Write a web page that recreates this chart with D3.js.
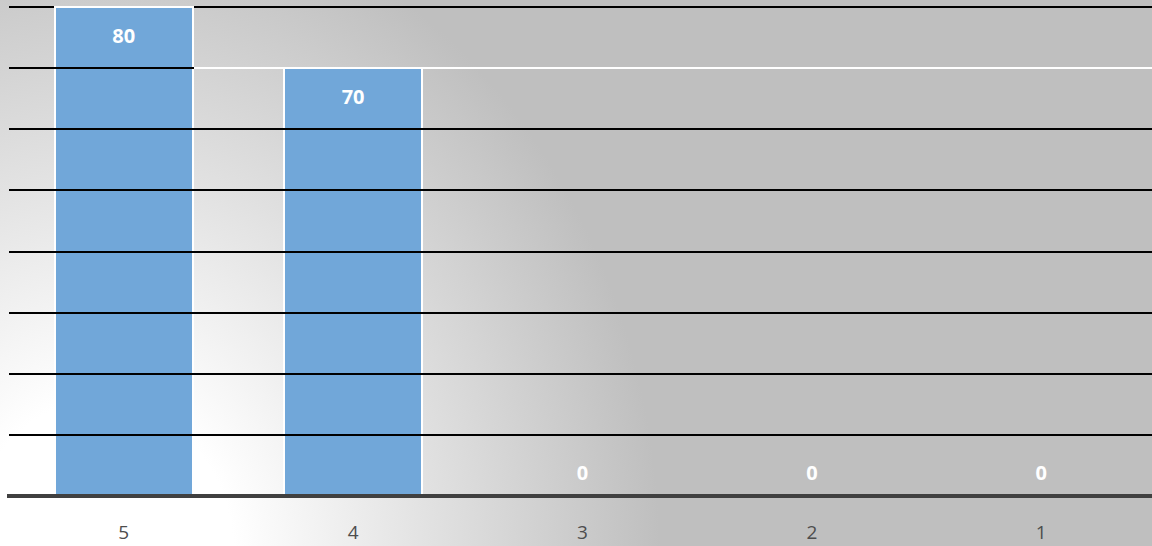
<!DOCTYPE html>
<html>
<head>
<meta charset="utf-8">
<script src="https://cdn.jsdelivr.net/npm/d3@7"></script>
<style>
  html, body { margin: 0; padding: 0; background: #fff; }
  svg { display: block; }
  .value-label { font-family: "Open Sans", sans-serif; font-weight: 700; font-size: 20px; fill: #fff; }
  .cat-label { font-family: "Open Sans", sans-serif; font-size: 19px; fill: #4d4d4d; }
</style>
</head>
<body>
<div id="chart"></div>
<script>
// chart data
const categories = ['5', '4', '3', '2', '1'];
const values = [80, 70, 0, 0, 0];
const gridTicks = [10, 20, 30, 40, 50, 60, 70, 80];

document.addEventListener('DOMContentLoaded', function(){
  drawChart();
});

function drawChart() {
  const width = 1152, height = 546;
  const svg = d3.select('#chart').append('svg').attr('width', width).attr('height', height);

  // background glow from the lower left corner (elliptical)
  const grad = svg.append('defs').append('radialGradient')
    .attr('id', 'bg')
    .attr('gradientUnits', 'userSpaceOnUse')
    .attr('cx', 100).attr('cy', 560).attr('r', 560)
    .attr('gradientTransform', 'translate(100,560) scale(1,1.19) translate(-100,-560)');
  grad.append('stop').attr('offset', 0).attr('stop-color', '#ffffff');
  grad.append('stop').attr('offset', 0.24).attr('stop-color', '#ffffff');
  grad.append('stop').attr('offset', 1).attr('stop-color', '#bfbfbf');
  svg.append('rect').attr('width', width).attr('height', height).attr('fill', 'url(#bg)');

  const x = d3.scaleBand()
    .domain(categories)
    .range([9, 1156])
    .paddingInner(0.4)
    .paddingOuter(0.2);

  const y = d3.scaleLinear()
    .domain([0, 80])
    .range([496, 7]);

  // snap to whole pixels so 2px lines stay crisp
  const py = v => Math.round(y(v));

  const data = categories.map((c, i) => ({ cat: c, val: values[i] }));

  // bars
  svg.append('g').selectAll('rect')
    .data(data.filter(d => d.val > 0))
    .enter().append('rect')
    .attr('x', d => Math.round(x(d.cat)))
    .attr('y', d => py(d.val))
    .attr('width', Math.round(x.bandwidth()))
    .attr('height', d => py(0) - py(d.val))
    .attr('fill', '#71a7d9')
    .attr('stroke', '#ffffff')
    .attr('stroke-width', 2);

  // gridlines, drawn over the bars
  svg.append('g').selectAll('line')
    .data(gridTicks)
    .enter().append('line')
    .attr('x1', 9)
    .attr('x2', width)
    .attr('y1', d => py(d))
    .attr('y2', d => py(d))
    .attr('stroke', '#000')
    .attr('stroke-width', 2);

  // white caps: top border of the first bar, and the 70 line turns white past the first bar
  svg.append('g').selectAll('line')
    .data(data.filter(d => d.val > 0))
    .enter().append('line')
    .attr('x1', (d, i) => i === 0 ? Math.round(x(d.cat)) - 1 : Math.round(x(categories[i - 1]) + x.bandwidth()) + 1)
    .attr('x2', (d, i) => i === 0 ? Math.round(x(d.cat) + x.bandwidth()) + 1 : width)
    .attr('y1', d => py(d.val))
    .attr('y2', d => py(d.val))
    .attr('stroke', '#fff')
    .attr('stroke-width', 2);

  // baseline
  svg.append('line')
    .attr('x1', 7).attr('x2', width)
    .attr('y1', py(0)).attr('y2', py(0))
    .attr('stroke', '#404040')
    .attr('stroke-width', 4);

  // value labels
  svg.append('g').selectAll('text')
    .data(data)
    .enter().append('text')
    .attr('class', 'value-label')
    .attr('x', d => x(d.cat) + x.bandwidth() / 2)
    .attr('y', d => d.val > 0 ? y(d.val) + 28 : y(0) - 24)
    .attr('text-anchor', 'middle')
    .attr('dominant-baseline', 'central')
    .text(d => d.val);

  // category labels
  svg.append('g').selectAll('text')
    .data(categories)
    .enter().append('text')
    .attr('class', 'cat-label')
    .attr('x', d => x(d) + x.bandwidth() / 2)
    .attr('y', 532)
    .attr('text-anchor', 'middle')
    .attr('dominant-baseline', 'central')
    .text(d => d);
}
</script>
</body>
</html>
